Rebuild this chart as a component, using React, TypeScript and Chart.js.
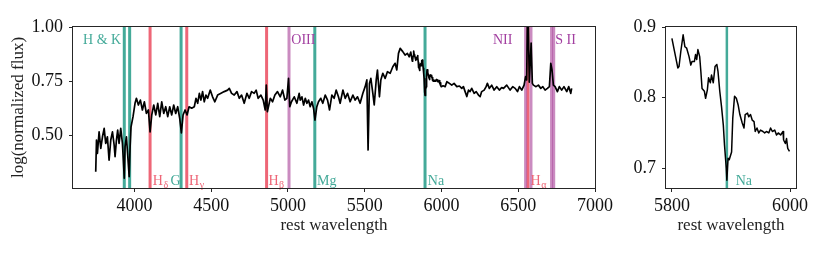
import React, { useEffect, useRef } from "react";
import { Chart, registerables } from "chart.js";

Chart.register(...registerables);

// ---------------- data ----------------
const wavelengths = [
  3748, 3753, 3759, 3770, 3781, 3792, 3803, 3813, 3824, 3835, 3846, 3857, 3868, 3874, 3883, 3891, 3900, 3911, 3922,
  3934, 3939, 3948, 3966, 3972, 3978, 3991, 4004, 4013, 4026, 4039, 4052, 4065, 4078, 4091, 4102, 4113, 4126, 4139,
  4152, 4165, 4178, 4191, 4204, 4217, 4230, 4243, 4256, 4269, 4282, 4295, 4306, 4317, 4330, 4343, 4356, 4373,
  4390, 4401, 4412, 4423, 4433, 4444, 4455, 4466, 4477, 4494, 4509, 4524, 4542, 4564, 4585, 4607, 4618, 4633, 4650,
  4668, 4683, 4698, 4715, 4733, 4748, 4763, 4780, 4793, 4806, 4824, 4839, 4852, 4859, 4866, 4885, 4900, 4915, 4932,
  4950, 4965, 4980, 4993, 5004, 5012, 5023, 5041, 5058, 5073,
  5080, 5091, 5102, 5113, 5123, 5134, 5145, 5156, 5167, 5176, 5188, 5199, 5214, 5227, 5243, 5258, 5271, 5286, 5301,
  5314, 5329, 5340, 5358, 5373, 5388, 5405, 5423, 5438, 5453, 5470, 5488, 5503, 5514, 5522, 5531, 5540, 5553, 5562,
  5575, 5583, 5596, 5605, 5618, 5633, 5648, 5666, 5683, 5698, 5709, 5720, 5731, 5748, 5763, 5778, 5790,
  5800, 5805, 5810, 5812, 5815, 5819, 5822, 5825, 5829, 5832, 5834, 5838, 5840, 5842, 5844, 5847, 5849, 5851, 5855,
  5857, 5860, 5862, 5865, 5867, 5870, 5873, 5876, 5878, 5881, 5884, 5887, 5889, 5892, 5893, 5895, 5897, 5901, 5903,
  5906, 5909, 5912, 5915, 5919, 5922, 5924, 5928, 5930, 5933, 5936, 5939, 5941, 5944, 5947, 5950, 5954, 5957, 5960,
  5964, 5967, 5970, 5974, 5977, 5980, 5984, 5988, 5989, 5992, 5994, 5996, 5999,
  6010, 6024, 6035, 6052, 6067, 6082, 6100, 6117, 6132, 6143, 6154, 6165, 6176, 6186, 6197, 6213, 6226, 6241, 6252,
  6262, 6278, 6291, 6299, 6312, 6327, 6343, 6360, 6377,
  6392, 6404, 6425, 6447, 6464, 6480, 6495, 6508, 6523, 6538, 6548, 6555, 6560, 6565, 6572, 6584, 6592, 6599, 6616,
  6631, 6647, 6660, 6675, 6690, 6703, 6712, 6720, 6729, 6740, 6755, 6768, 6783, 6798, 6816, 6829, 6842, 6848,
];

const flux = [
  0.330, 0.477, 0.415, 0.515, 0.438, 0.492, 0.531, 0.461, 0.492, 0.384, 0.477, 0.515, 0.454, 0.400, 0.477, 0.523, 0.461, 0.531, 0.461,
  0.300, 0.446, 0.492, 0.307, 0.446, 0.538, 0.585, 0.647, 0.670, 0.639, 0.662, 0.616, 0.654, 0.600, 0.616, 0.515, 0.593, 0.639, 0.593,
  0.647, 0.585, 0.654, 0.600, 0.631, 0.585, 0.631, 0.593, 0.639, 0.600, 0.631, 0.577, 0.510, 0.593, 0.616, 0.593, 0.631, 0.624,
  0.631, 0.670, 0.647, 0.693, 0.662, 0.701, 0.654, 0.685, 0.670, 0.708, 0.677, 0.654, 0.685, 0.693, 0.701, 0.708, 0.716, 0.693, 0.685,
  0.701, 0.670, 0.685, 0.647, 0.693, 0.670, 0.701, 0.693, 0.708, 0.670, 0.685, 0.662, 0.616, 0.731, 0.608, 0.670, 0.654, 0.685, 0.701,
  0.677, 0.708, 0.662, 0.670, 0.762, 0.631, 0.654, 0.677, 0.647, 0.693,
  0.662, 0.677, 0.639, 0.670, 0.647, 0.662, 0.631, 0.654, 0.623, 0.569, 0.631, 0.654, 0.670, 0.647, 0.685, 0.662, 0.616, 0.685, 0.670,
  0.708, 0.677, 0.647, 0.708, 0.670, 0.693, 0.654, 0.685, 0.662, 0.677, 0.647, 0.693, 0.724, 0.755, 0.431, 0.739, 0.762, 0.693, 0.639,
  0.755, 0.801, 0.677, 0.755, 0.786, 0.762, 0.793, 0.786, 0.816, 0.832, 0.801, 0.878, 0.901, 0.886, 0.870, 0.878, 0.862,
  0.884, 0.863, 0.842, 0.844, 0.865, 0.889, 0.872, 0.870, 0.858, 0.846, 0.851, 0.851, 0.861, 0.854, 0.868, 0.858, 0.837, 0.813, 0.809,
  0.799, 0.811, 0.828, 0.821, 0.832, 0.821, 0.844, 0.847, 0.837, 0.809, 0.787, 0.761, 0.733, 0.700, 0.683, 0.714, 0.712, 0.723, 0.771,
  0.802, 0.799, 0.790, 0.776, 0.764, 0.757, 0.776, 0.778, 0.773, 0.776, 0.768, 0.766, 0.752, 0.757, 0.750, 0.754, 0.752, 0.750, 0.752,
  0.750, 0.757, 0.752, 0.754, 0.747, 0.750, 0.747, 0.752, 0.740, 0.735, 0.742, 0.728, 0.724,
  0.728, 0.724, 0.747, 0.739, 0.731, 0.739, 0.724, 0.727, 0.716, 0.724, 0.701, 0.678, 0.708, 0.701, 0.716, 0.693, 0.701, 0.685, 0.678,
  0.701, 0.708, 0.724, 0.739, 0.716, 0.731, 0.708, 0.724, 0.708,
  0.720, 0.716, 0.731, 0.708, 0.724, 0.716, 0.701, 0.724, 0.708, 0.731, 0.770, 0.755, 1.050, 1.050, 0.745, 0.925, 0.739, 0.731, 0.724,
  0.731, 0.716, 0.724, 0.708, 0.716, 0.724, 0.832, 0.801, 0.731, 0.724, 0.701, 0.724, 0.708, 0.724, 0.701, 0.724, 0.693, 0.716,
];

const xTicksMain = [4000, 4500, 5000, 5500, 6000, 6500, 7000];
const yTicksMain = [0.5, 0.75, 1.0];
const xTicksZoom = [5800, 6000];
const yTicksZoom = [0.7, 0.8, 0.9];

// spectral feature lines
const lineWaves = [3934, 3969, 4102, 4304, 4341, 4861, 5007, 5175, 5893, 6548, 6563, 6583, 6717, 6731];
const lineGroups = ["abs", "abs", "balmer", "abs", "balmer", "balmer", "forbid", "abs", "abs", "forbid", "balmer", "forbid", "forbid", "forbid"];

// labels of the features
const labelTexts = ["H & K", "H", "G", "H", "H", "OIII", "Mg", "Na", "NII", "H", "S II"];
const labelSubs = ["", "δ", "", "γ", "β", "", "", "", "", "α", ""];
const labelWaves = [3914, 4120, 4301, 4356, 4873, 5022, 5190, 5911, 6462, 6580, 6741];
const labelAligns = ["right", "left", "right", "left", "left", "left", "left", "left", "right", "left", "left"];
const labelRows = ["top", "bottom", "bottom", "bottom", "bottom", "top", "bottom", "bottom", "top", "bottom", "top"];
const labelGroups = ["abs", "balmer", "abs", "balmer", "balmer", "forbid", "abs", "abs", "forbid", "balmer", "forbid"];

const zoomLabelTexts = ["Na"];
const zoomLabelSubs = [""];
const zoomLabelWaves = [5908];
const zoomLabelAligns = ["left"];
const zoomLabelRows = ["bottom"];
const zoomLabelGroups = ["abs"];

// ---------------- styles ----------------
const FONT = '"Liberation Serif", "Times New Roman", serif';
const LINE_COLORS: Record<string, string> = {
  abs: "#44aa99",
  balmer: "#ee6677",
  forbid: "rgba(170,68,153,0.62)",
};
const TEXT_COLORS: Record<string, string> = {
  abs: "#44aa99",
  balmer: "#ee6677",
  forbid: "#a23fa0",
};

const framePlugin = {
  id: "frame",
  afterDraw(chart: any) {
    const { ctx, chartArea } = chart;
    ctx.save();
    ctx.strokeStyle = "#262626";
    ctx.lineWidth = 1;
    ctx.strokeRect(
      Math.round(chartArea.left) - 0.5,
      Math.round(chartArea.top) - 0.5,
      Math.round(chartArea.right - chartArea.left) + 1,
      Math.round(chartArea.bottom - chartArea.top) + 1
    );
    ctx.restore();
  },
};

function makeLabelPlugin(texts: string[], subs: string[], waves: number[], aligns: string[], rows: string[], groups: string[]) {
  return {
    id: "featureLabels",
    afterDatasetsDraw(chart: any) {
      const { ctx, chartArea, scales } = chart;
      const xs = scales.x;
      ctx.save();
      ctx.textBaseline = "alphabetic";
      ctx.textAlign = "left";
      texts.forEach((t, i) => {
        const px = xs.getPixelForValue(waves[i]);
        const y = rows[i] === "top" ? chartArea.top + 17 : chartArea.bottom - 3.5;
        ctx.font = `14px ${FONT}`;
        const w = ctx.measureText(t).width;
        ctx.font = `10px ${FONT}`;
        const sw = subs[i] ? ctx.measureText(subs[i]).width : 0;
        const x0 = aligns[i] === "right" ? px - w - sw : px;
        ctx.fillStyle = TEXT_COLORS[groups[i]];
        ctx.font = `14px ${FONT}`;
        ctx.fillText(t, x0, y);
        if (subs[i]) {
          ctx.font = `10px ${FONT}`;
          ctx.fillText(subs[i], x0 + w + 0.5, y + 3);
        }
      });
      ctx.restore();
    },
  };
}

type PanelSpec = {
  xMin: number;
  xMax: number;
  yMin: number;
  yMax: number;
  xTicks: number[];
  yTicks: number[];
  yDecimals: number;
  yTitle: string;
  yWidth: number;
  padRight: number;
  lineWidth: number;
  featureWidth: number;
  labels: any;
};

function buildConfig(spec: PanelSpec): any {
  const pts = wavelengths
    .map((w, i) => ({ x: w, y: flux[i] }))
    .filter((p) => (spec.xMin > 5700 ? p.x >= 5800 && p.x <= 6000 : true));

  const featureSets = lineWaves
    .map((w, i) => ({ w, g: lineGroups[i] }))
    .filter((f) => f.w >= spec.xMin && f.w <= spec.xMax)
    .map((f) => ({
      type: "line",
      data: [
        { x: f.w, y: spec.yMin - 1 },
        { x: f.w, y: spec.yMax + 1 },
      ],
      borderColor: LINE_COLORS[f.g],
      borderWidth: spec.featureWidth,
      pointRadius: 0,
      order: 1,
      clip: 0,
    }));

  const tickFont = { family: FONT, size: 18 };
  const titleFont = { family: FONT, size: 17 };

  return {
    type: "line",
    data: {
      datasets: [
        {
          data: pts,
          borderColor: "#000",
          borderWidth: spec.lineWidth,
          borderJoinStyle: "round",
          pointRadius: 0,
          tension: 0,
          order: 0,
        },
        ...featureSets,
      ],
    },
    options: {
      animation: false,
      responsive: false,
      devicePixelRatio: 1,
      events: [],
      layout: { padding: { top: 27, right: spec.padRight, bottom: 0, left: 0 } },
      plugins: { legend: { display: false }, tooltip: { enabled: false } },
      scales: {
        x: {
          type: "linear",
          min: spec.xMin,
          max: spec.xMax,
          afterBuildTicks: (s: any) => {
            s.ticks = spec.xTicks.map((v) => ({ value: v }));
          },
          afterFit: (s: any) => {
            s.height = 68;
          },
          ticks: {
            font: tickFont,
            color: "#111",
            padding: 3,
            maxRotation: 0,
            autoSkip: false,
            callback: (v: any) => String(v),
          },
          grid: { drawOnChartArea: false, drawTicks: true, tickLength: 4, color: "#262626", lineWidth: 1 },
          border: { display: false },
          title: {
            display: true,
            text: "rest wavelength",
            font: titleFont,
            color: "#222",
            padding: { top: 0, bottom: 20 },
          },
        },
        y: {
          type: "linear",
          min: spec.yMin,
          max: spec.yMax,
          afterBuildTicks: (s: any) => {
            s.ticks = spec.yTicks.map((v) => ({ value: v }));
          },
          afterFit: (s: any) => {
            s.width = spec.yWidth;
          },
          ticks: {
            font: tickFont,
            color: "#111",
            padding: 6,
            callback: (v: any) => Number(v).toFixed(spec.yDecimals),
          },
          grid: { drawOnChartArea: false, drawTicks: true, tickLength: 4, color: "#262626", lineWidth: 1 },
          border: { display: false },
          title: {
            display: spec.yTitle !== "",
            text: spec.yTitle,
            font: titleFont,
            color: "#222",
            padding: { top: 8, bottom: 0 },
          },
        },
      },
    },
    plugins: [framePlugin, spec.labels],
  };
}

const mainSpec: PanelSpec = {
  xMin: 3600,
  xMax: 7000,
  yMin: 0.255,
  yMax: 1.0,
  xTicks: xTicksMain,
  yTicks: yTicksMain,
  yDecimals: 2,
  yTitle: "log(normalized flux)",
  yWidth: 73,
  padRight: 25,
  lineWidth: 1.7,
  featureWidth: 3,
  labels: makeLabelPlugin(labelTexts, labelSubs, labelWaves, labelAligns, labelRows, labelGroups),
};

const zoomSpec: PanelSpec = {
  xMin: 5790,
  xMax: 6010,
  yMin: 0.672,
  yMax: 0.9,
  xTicks: xTicksZoom,
  yTicks: yTicksZoom,
  yDecimals: 1,
  yTitle: "",
  yWidth: 46,
  padRight: 34,
  lineWidth: 1.5,
  featureWidth: 2.5,
  labels: makeLabelPlugin(zoomLabelTexts, zoomLabelSubs, zoomLabelWaves, zoomLabelAligns, zoomLabelRows, zoomLabelGroups),
};

function Panel({ spec, left, width }: { spec: PanelSpec; left: number; width: number }) {
  const ref = useRef<HTMLCanvasElement | null>(null);
  useEffect(() => {
    if (!ref.current) return;
    const chart = new Chart(ref.current, buildConfig(spec));
    return () => chart.destroy();
  }, []);
  return (
    <canvas
      ref={ref}
      width={width}
      height={256}
      style={{ position: "absolute", left, top: 0, width, height: 256, display: "block" }}
    />
  );
}

export default function App() {
  return (
    <div style={{ position: "absolute", left: 0, top: 0, width: 830, height: 256, background: "#fff" }}>
      <Panel spec={mainSpec} left={0} width={620} />
      <Panel spec={zoomSpec} left={620} width={210} />
    </div>
  );
}
